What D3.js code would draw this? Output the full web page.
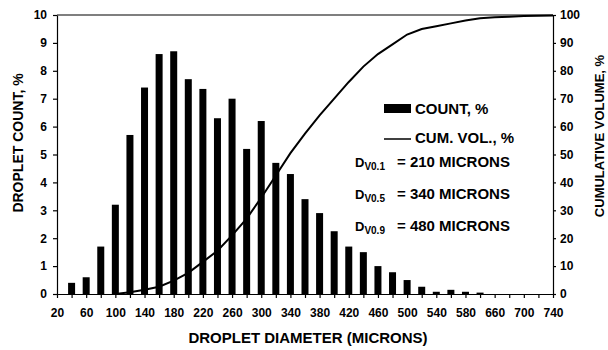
<!DOCTYPE html>
<html>
<head>
<meta charset="utf-8">
<script src="https://cdn.jsdelivr.net/npm/d3@7"></script>
<style>
  body { margin: 0; background: #fff; }
  svg { display: block; font-family: "Liberation Sans", Arial, sans-serif; font-weight: bold; }
  .axis path, .axis line { stroke: #000; stroke-width: 1.2; }
  .axis text { font-size: 12px; font-weight: bold; fill: #000; }
</style>
</head>
<body>
<div id="chart"></div>
<script>
// droplet count histogram (every 20 microns)
const countDiam = [40, 60, 80, 100, 120, 140, 160, 180, 200, 220, 240, 260, 280, 300, 320,
  340, 360, 380, 400, 420, 440, 460, 480, 500, 520, 540, 560, 580, 600];
const countPct = [0.4, 0.6, 1.7, 3.2, 5.7, 7.4, 8.6, 8.7, 7.7, 7.35, 6.3, 7.0, 5.2, 6.2, 4.7,
  4.3, 3.4, 2.9, 2.25, 1.7, 1.5, 1.0, 0.78, 0.5, 0.26, 0.08, 0.15, 0.08, 0.05];

// cumulative volume curve
const cumDiam = [100, 120, 140, 160, 180, 200, 220, 240, 260, 280, 300, 320, 340, 360, 380, 400,
  420, 440, 460, 480, 500, 520, 540, 560, 580, 600, 620, 640, 660, 680, 700];
const cumPct = [0, 0.6, 1.5, 2.6, 4.8, 7.6, 11.5, 15.5, 21, 27, 34.5, 42.5, 50.5, 57.5, 64, 70,
  76, 81.5, 86, 89.5, 93, 95, 96, 97, 98, 98.8, 99.2, 99.4, 99.6, 99.7, 99.8];

// x tick labels as printed on the original (note the 620 slot reads 660)
const xTickValues = [20, 60, 100, 140, 180, 220, 260, 300, 340, 380, 420, 460, 500, 540, 580, 620, 660, 700];
const xTickLabels = ['20', '60', '100', '140', '180', '220', '260', '300', '340', '380', '420', '460',
  '500', '540', '580', '660', '700', '740'];

const leftTicks = [0, 1, 2, 3, 4, 5, 6, 7, 8, 9, 10];
const rightTicks = [0, 10, 20, 30, 40, 50, 60, 70, 80, 90, 100];

const diameters = [
  { label: 'V0.1', value: '= 210 MICRONS' },
  { label: 'V0.5', value: '= 340 MICRONS' },
  { label: 'V0.9', value: '= 480 MICRONS' }
];

const width = 608, height = 350;
const plot = { left: 57, right: 553, top: 15, bottom: 294 };

const svg = d3.select('#chart').append('svg')
  .attr('width', width)
  .attr('height', height);

const x = d3.scaleLinear().domain([20, 700]).range([plot.left, plot.right]);
const yCount = d3.scaleLinear().domain([0, 10]).range([plot.bottom, plot.top]);
const yCum = d3.scaleLinear().domain([0, 100]).range([plot.bottom, plot.top]);

// bars
const barWidth = 7;
svg.append('g').attr('class', 'bars')
  .selectAll('rect')
  .data(countDiam)
  .enter().append('rect')
  .attr('x', d => x(d) - barWidth / 2)
  .attr('y', (d, i) => yCount(countPct[i]))
  .attr('width', barWidth)
  .attr('height', (d, i) => yCount(0) - yCount(countPct[i]))
  .attr('fill', '#000');

// cumulative curve
const line = d3.line()
  .x(d => x(d[0]))
  .y(d => yCum(d[1]));
svg.append('path')
  .datum(cumDiam.map((d, i) => [d, cumPct[i]]))
  .attr('d', line)
  .attr('fill', 'none')
  .attr('stroke', '#000')
  .attr('stroke-width', 2);

// top frame line
svg.append('line')
  .attr('x1', plot.left).attr('x2', plot.right)
  .attr('y1', plot.top).attr('y2', plot.top)
  .attr('stroke', '#000').attr('stroke-width', 1.2);

// axes
const labelAt = new Map(xTickValues.map((v, i) => [v, xTickLabels[i]]));
svg.append('g')
  .attr('class', 'axis axis-x')
  .attr('transform', `translate(0, ${plot.bottom})`)
  .call(d3.axisBottom(x)
    .tickValues(d3.range(20, 701, 20))
    .tickSize(4)
    .tickSizeOuter(0)
    .tickFormat(d => labelAt.get(d) || ''))
  .selectAll('text').attr('dy', '1.35em');

svg.append('g')
  .attr('class', 'axis axis-y')
  .attr('transform', `translate(${plot.left}, 0)`)
  .call(d3.axisLeft(yCount).tickValues(leftTicks).tickSize(4).tickSizeOuter(0).tickPadding(6));

svg.append('g')
  .attr('class', 'axis axis-y2')
  .attr('transform', `translate(${plot.right}, 0)`)
  .call(d3.axisRight(yCum).tickValues(rightTicks).tickSize(3).tickSizeOuter(0).tickPadding(4));

// axis titles
svg.append('text')
  .attr('x', (plot.left + plot.right) / 2 + 3)
  .attr('y', 343)
  .attr('text-anchor', 'middle')
  .style('font-size', '15px')
  .text('DROPLET DIAMETER (MICRONS)');

svg.append('text')
  .attr('transform', 'translate(23, 143) rotate(-90)')
  .attr('text-anchor', 'middle')
  .style('font-size', '14px')
  .text('DROPLET COUNT, %');

svg.append('text')
  .attr('transform', 'translate(604, 136) rotate(-90)')
  .attr('text-anchor', 'middle')
  .style('font-size', '13px')
  .text('CUMULATIVE VOLUME, %');

// legend
const legend = svg.append('g').attr('class', 'legend');
legend.append('rect')
  .attr('x', 384).attr('y', 104)
  .attr('width', 27).attr('height', 9)
  .attr('fill', '#000');
legend.append('text')
  .attr('x', 415).attr('y', 114)
  .style('font-size', '15px')
  .text('COUNT, %');
legend.append('line')
  .attr('x1', 384).attr('x2', 411)
  .attr('y1', 139).attr('y2', 139)
  .attr('stroke', '#000').attr('stroke-width', 1.5);
legend.append('text')
  .attr('x', 415).attr('y', 143)
  .style('font-size', '15px')
  .text('CUM. VOL., %');

// Dv annotations
const notes = svg.append('g').attr('class', 'notes')
  .selectAll('g')
  .data(diameters)
  .enter().append('g')
  .attr('transform', (d, i) => `translate(355, ${167 + i * 32})`);
const dText = notes.append('text').style('font-size', '13px');
dText.append('tspan').text('D');
dText.append('tspan')
  .attr('dy', 3)
  .style('font-size', '10px')
  .text(d => d.label);
notes.append('text')
  .attr('x', 42)
  .style('font-size', '15px')
  .text(d => d.value);
</script>
</body>
</html>
